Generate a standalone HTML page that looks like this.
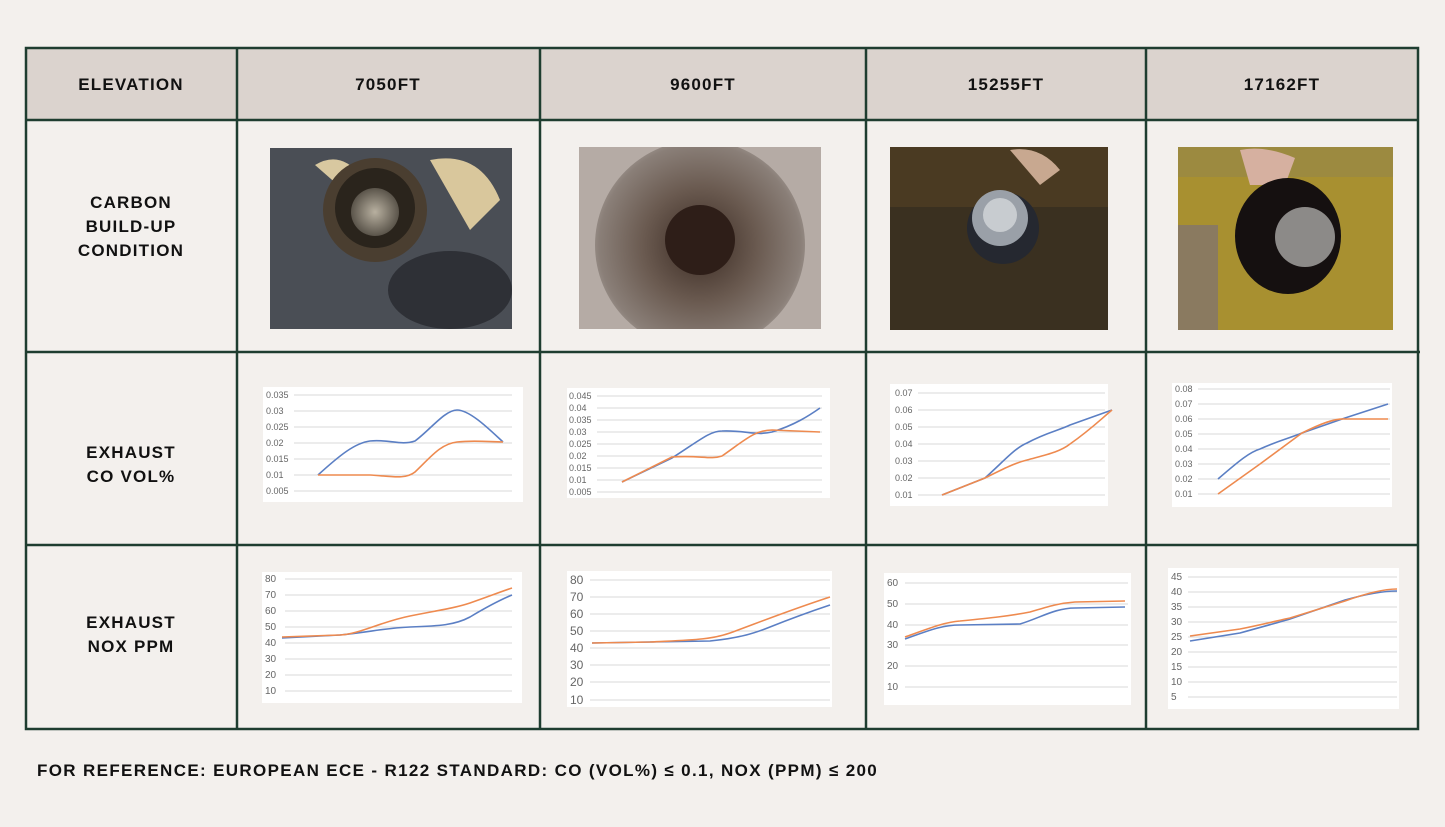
<!DOCTYPE html>
<html><head><meta charset="utf-8"><style>
html,body{margin:0;padding:0;background:#f3f0ed}
svg{display:block}
text{font-family:"Liberation Sans",sans-serif}
.h{font-weight:bold;font-size:17px;fill:#111;text-anchor:middle;letter-spacing:1.2px}
.t{font-size:9px;fill:#666}
.g{stroke:#d9d9d9;stroke-width:1}
.b{fill:none;stroke:#5b7fc4;stroke-width:1.6;stroke-linejoin:round}
.o{fill:none;stroke:#ee8a4f;stroke-width:1.6;stroke-linejoin:round}
</style></head><body>
<svg width="1445" height="827" viewBox="0 0 1445 827" xmlns="http://www.w3.org/2000/svg">
<defs>
<radialGradient id="p2" cx="0.5" cy="0.5" r="0.6"><stop offset="0" stop-color="#3a2a22"/><stop offset="0.45" stop-color="#6a5a50"/><stop offset="0.8" stop-color="#8a7f78"/><stop offset="1" stop-color="#bdb5b0"/></radialGradient>
<radialGradient id="m" cx="0.5" cy="0.5" r="0.5"><stop offset="0" stop-color="#b8b0a0"/><stop offset="1" stop-color="#5a544a"/></radialGradient>
<clipPath id="c2"><rect x="579" y="147" width="242" height="182"/></clipPath>
</defs>
<rect width="1445" height="827" fill="#f3f0ed"/>
<rect x="26" y="48" width="1392" height="72" fill="#dbd3ce"/>
<g stroke="#1e3d30" stroke-width="2.5" fill="none">
<rect x="26" y="48" width="1392" height="681"/>
<line x1="26" y1="120" x2="1418" y2="120"/>
<line x1="26" y1="352" x2="1420" y2="352"/>
<line x1="26" y1="545" x2="1418" y2="545"/>
<line x1="237" y1="48" x2="237" y2="729"/>
<line x1="540" y1="48" x2="540" y2="729"/>
<line x1="866" y1="48" x2="866" y2="729"/>
<line x1="1146" y1="48" x2="1146" y2="729"/>
</g>
<text class="h" x="131" y="90">ELEVATION</text>
<text class="h" x="388" y="90">7050FT</text>
<text class="h" x="703" y="90">9600FT</text>
<text class="h" x="1006" y="90">15255FT</text>
<text class="h" x="1282" y="90">17162FT</text>
<text class="h" x="131" y="208">CARBON</text>
<text class="h" x="131" y="232">BUILD-UP</text>
<text class="h" x="131" y="256">CONDITION</text>
<text class="h" x="131" y="458">EXHAUST</text>
<text class="h" x="131" y="482">CO VOL%</text>
<text class="h" x="131" y="628">EXHAUST</text>
<text class="h" x="131" y="652">NOX PPM</text>
<text x="37" y="776" style="font-weight:bold;font-size:17px;fill:#111;letter-spacing:1.35px">FOR REFERENCE: EUROPEAN ECE - R122 STANDARD: CO (VOL%) ≤ 0.1, NOX (PPM) ≤ 200</text>

<!-- photos -->
<rect x="270" y="148" width="242" height="181" fill="#4a4e55"/>
<ellipse cx="450" cy="290" rx="62" ry="39" fill="#2e3036"/>
<path d="M315 165 Q340 150 360 175 L355 200 Z" fill="#d8c8a0"/>
<path d="M430 160 Q480 150 500 200 L470 230 Z" fill="#d9c79c"/>
<circle cx="375" cy="210" r="52" fill="#4a3e30"/>
<circle cx="375" cy="208" r="40" fill="#2a241c"/>
<circle cx="375" cy="212" r="24" fill="url(#m)"/>
<rect x="579" y="147" width="242" height="182" fill="#b5aba5"/>
<g clip-path="url(#c2)"><circle cx="700" cy="245" r="105" fill="url(#p2)"/>
<circle cx="700" cy="240" r="35" fill="#2e1e18"/></g>
<rect x="890" y="147" width="218" height="183" fill="#3a3020"/>
<rect x="890" y="147" width="218" height="60" fill="#4a3a22"/>
<path d="M1010 150 Q1040 145 1060 170 L1040 185 Z" fill="#c8a890"/>
<circle cx="1003" cy="228" r="36" fill="#252830"/>
<circle cx="1000" cy="218" r="28" fill="#9aa0a8"/>
<circle cx="1000" cy="215" r="17" fill="#c8ccd0"/>
<rect x="1178" y="147" width="215" height="183" fill="#a89030"/>
<rect x="1178" y="147" width="215" height="30" fill="#9c8a40"/>
<rect x="1178" y="225" width="40" height="105" fill="#8a7a60"/>
<path d="M1240 150 Q1265 145 1295 158 L1285 185 L1250 185 Z" fill="#d6b0a0"/>
<ellipse cx="1288" cy="236" rx="53" ry="58" fill="#151010"/>
<circle cx="1305" cy="237" r="30" fill="#8c8a88"/>

<!-- CO charts -->
<rect x="263" y="387" width="260" height="115" fill="#fff"/>
<g class="g"><line x1="294" y1="395" x2="512" y2="395"/><line x1="294" y1="411" x2="512" y2="411"/><line x1="294" y1="427" x2="512" y2="427"/><line x1="294" y1="443" x2="512" y2="443"/><line x1="294" y1="459" x2="512" y2="459"/><line x1="294" y1="475" x2="512" y2="475"/><line x1="294" y1="491" x2="512" y2="491"/></g>
<g class="t"><text x="266" y="398">0.035</text><text x="266" y="414">0.03</text><text x="266" y="430">0.025</text><text x="266" y="446">0.02</text><text x="266" y="462">0.015</text><text x="266" y="478">0.01</text><text x="266" y="494">0.005</text></g>
<path class="b" d="M318 475 C340 455 355 443 370 441 C390 439 400 446 415 441 C430 430 445 410 457 410 C470 410 490 430 503 442"/>
<path class="o" d="M318 475 L370 475 C390 476 405 480 415 472 C430 458 440 444 457 442 C475 440 490 442 503 442"/>

<rect x="567" y="388" width="263" height="110" fill="#fff"/>
<g class="g"><line x1="597" y1="396" x2="822" y2="396"/><line x1="597" y1="408" x2="822" y2="408"/><line x1="597" y1="420" x2="822" y2="420"/><line x1="597" y1="432" x2="822" y2="432"/><line x1="597" y1="444" x2="822" y2="444"/><line x1="597" y1="456" x2="822" y2="456"/><line x1="597" y1="468" x2="822" y2="468"/><line x1="597" y1="480" x2="822" y2="480"/><line x1="597" y1="492" x2="822" y2="492"/></g>
<g class="t"><text x="569" y="399">0.045</text><text x="569" y="411">0.04</text><text x="569" y="423">0.035</text><text x="569" y="435">0.03</text><text x="569" y="447">0.025</text><text x="569" y="459">0.02</text><text x="569" y="471">0.015</text><text x="569" y="483">0.01</text><text x="569" y="495">0.005</text></g>
<path class="b" d="M622 482 L672 458 C700 440 710 431 722 431 C745 430 755 436 772 432 C795 425 810 415 820 408"/>
<path class="o" d="M622 482 L672 457 C700 455 710 460 722 456 C745 440 755 430 772 430 L820 432"/>

<rect x="890" y="384" width="218" height="122" fill="#fff"/>
<g class="g"><line x1="918" y1="393" x2="1105" y2="393"/><line x1="918" y1="410" x2="1105" y2="410"/><line x1="918" y1="427" x2="1105" y2="427"/><line x1="918" y1="444" x2="1105" y2="444"/><line x1="918" y1="461" x2="1105" y2="461"/><line x1="918" y1="478" x2="1105" y2="478"/><line x1="918" y1="495" x2="1105" y2="495"/></g>
<g class="t"><text x="895" y="396">0.07</text><text x="895" y="413">0.06</text><text x="895" y="430">0.05</text><text x="895" y="447">0.04</text><text x="895" y="464">0.03</text><text x="895" y="481">0.02</text><text x="895" y="498">0.01</text></g>
<path class="b" d="M942 495 L985 478 C1005 460 1015 448 1027 443 C1045 433 1060 430 1070 425 L1112 410"/>
<path class="o" d="M942 495 L985 478 C1005 468 1015 463 1027 460 C1045 455 1060 452 1070 444 C1090 430 1100 420 1112 410"/>

<rect x="1172" y="383" width="220" height="124" fill="#fff"/>
<g class="g"><line x1="1198" y1="389" x2="1390" y2="389"/><line x1="1198" y1="404" x2="1390" y2="404"/><line x1="1198" y1="419" x2="1390" y2="419"/><line x1="1198" y1="434" x2="1390" y2="434"/><line x1="1198" y1="449" x2="1390" y2="449"/><line x1="1198" y1="464" x2="1390" y2="464"/><line x1="1198" y1="479" x2="1390" y2="479"/><line x1="1198" y1="494" x2="1390" y2="494"/></g>
<g class="t"><text x="1175" y="392">0.08</text><text x="1175" y="407">0.07</text><text x="1175" y="422">0.06</text><text x="1175" y="437">0.05</text><text x="1175" y="452">0.04</text><text x="1175" y="467">0.03</text><text x="1175" y="482">0.02</text><text x="1175" y="497">0.01</text></g>
<path class="b" d="M1218 479 C1240 460 1250 452 1260 449 C1280 440 1290 438 1302 433 L1345 418 L1388 404"/>
<path class="o" d="M1218 494 L1260 464 L1302 433 C1320 424 1335 418 1345 419 L1388 419"/>

<!-- NOX charts -->
<rect x="262" y="572" width="260" height="131" fill="#fff"/>
<g class="g"><line x1="285" y1="579" x2="512" y2="579"/><line x1="285" y1="595" x2="512" y2="595"/><line x1="285" y1="611" x2="512" y2="611"/><line x1="285" y1="627" x2="512" y2="627"/><line x1="285" y1="643" x2="512" y2="643"/><line x1="285" y1="659" x2="512" y2="659"/><line x1="285" y1="675" x2="512" y2="675"/><line x1="285" y1="691" x2="512" y2="691"/></g>
<g class="t" style="font-size:10px"><text x="265" y="582">80</text><text x="265" y="598">70</text><text x="265" y="614">60</text><text x="265" y="630">50</text><text x="265" y="646">40</text><text x="265" y="662">30</text><text x="265" y="678">20</text><text x="265" y="694">10</text></g>
<path class="b" d="M282 638 L340 635 C370 632 385 628 410 627 C440 626 455 625 470 617 C490 605 500 600 512 595"/>
<path class="o" d="M282 637 L340 635 C360 634 380 622 410 616 C440 610 455 608 470 603 C490 596 500 592 512 588"/>

<rect x="567" y="571" width="265" height="136" fill="#fff"/>
<g class="g"><line x1="590" y1="580" x2="830" y2="580"/><line x1="590" y1="597" x2="830" y2="597"/><line x1="590" y1="614" x2="830" y2="614"/><line x1="590" y1="631" x2="830" y2="631"/><line x1="590" y1="648" x2="830" y2="648"/><line x1="590" y1="665" x2="830" y2="665"/><line x1="590" y1="682" x2="830" y2="682"/><line x1="590" y1="700" x2="830" y2="700"/></g>
<g class="t" style="font-size:12px"><text x="570" y="584">80</text><text x="570" y="601">70</text><text x="570" y="618">60</text><text x="570" y="635">50</text><text x="570" y="652">40</text><text x="570" y="669">30</text><text x="570" y="686">20</text><text x="570" y="704">10</text></g>
<path class="b" d="M592 643 L650 642 L710 641 C740 638 755 633 770 627 C795 617 815 610 830 605"/>
<path class="o" d="M592 643 L650 642 C690 640 710 640 730 633 C760 622 790 610 830 597"/>

<rect x="884" y="573" width="247" height="132" fill="#fff"/>
<g class="g"><line x1="905" y1="583" x2="1128" y2="583"/><line x1="905" y1="604" x2="1128" y2="604"/><line x1="905" y1="625" x2="1128" y2="625"/><line x1="905" y1="645" x2="1128" y2="645"/><line x1="905" y1="666" x2="1128" y2="666"/><line x1="905" y1="687" x2="1128" y2="687"/></g>
<g class="t" style="font-size:10px"><text x="887" y="586">60</text><text x="887" y="607">50</text><text x="887" y="628">40</text><text x="887" y="648">30</text><text x="887" y="669">20</text><text x="887" y="690">10</text></g>
<path class="b" d="M905 639 C935 628 945 625 960 625 L1020 624 C1040 618 1055 608 1075 608 L1125 607"/>
<path class="o" d="M905 637 C930 628 945 622 960 621 C990 618 1010 616 1030 612 C1050 606 1060 603 1075 602 L1125 601"/>

<rect x="1168" y="568" width="231" height="141" fill="#fff"/>
<g class="g"><line x1="1188" y1="577" x2="1397" y2="577"/><line x1="1188" y1="592" x2="1397" y2="592"/><line x1="1188" y1="607" x2="1397" y2="607"/><line x1="1188" y1="622" x2="1397" y2="622"/><line x1="1188" y1="637" x2="1397" y2="637"/><line x1="1188" y1="652" x2="1397" y2="652"/><line x1="1188" y1="667" x2="1397" y2="667"/><line x1="1188" y1="682" x2="1397" y2="682"/><line x1="1188" y1="697" x2="1397" y2="697"/></g>
<g class="t" style="font-size:10px"><text x="1171" y="580">45</text><text x="1171" y="595">40</text><text x="1171" y="610">35</text><text x="1171" y="625">30</text><text x="1171" y="640">25</text><text x="1171" y="655">20</text><text x="1171" y="670">15</text><text x="1171" y="685">10</text><text x="1171" y="700">5</text></g>
<path class="b" d="M1190 641 L1240 633 C1265 626 1280 622 1290 619 L1345 600 C1370 593 1385 591 1397 591"/>
<path class="o" d="M1190 636 L1240 629 C1265 624 1280 620 1290 618 L1345 601 C1370 592 1385 589 1397 589"/>
</svg>
</body></html>
